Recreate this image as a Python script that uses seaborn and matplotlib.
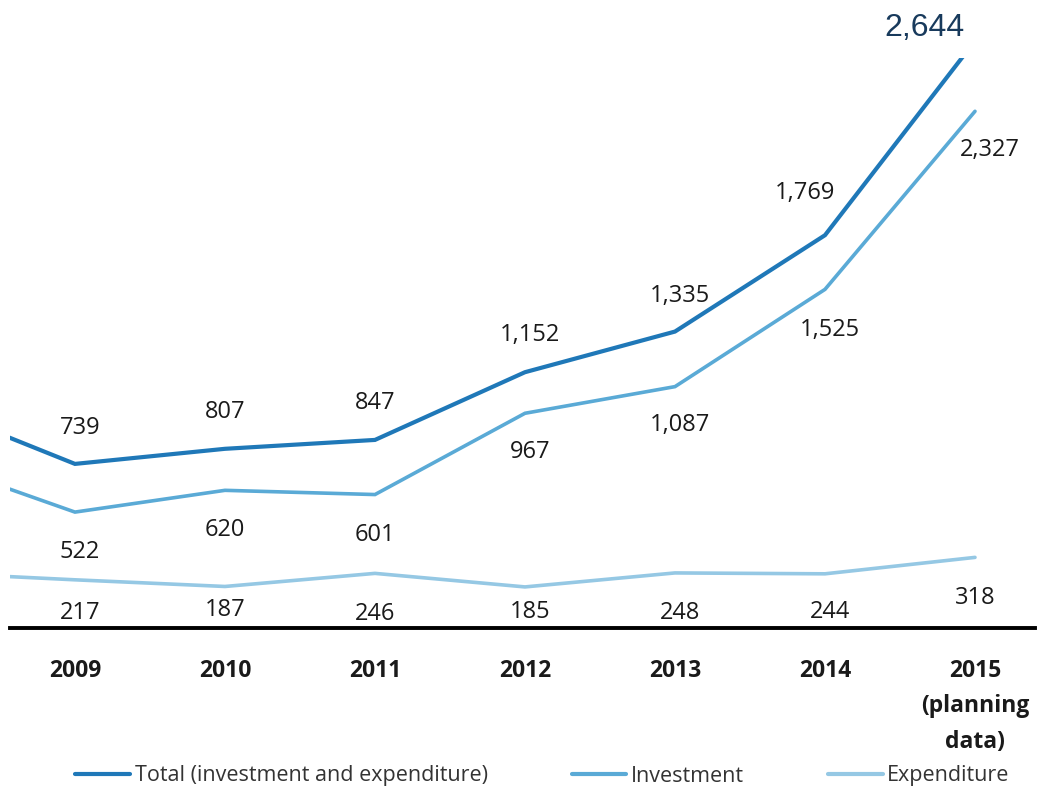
import matplotlib
matplotlib.use("Agg")
import matplotlib.pyplot as plt
import seaborn as sns
import pandas as pd
from matplotlib.lines import Line2D

# ---- data (2008 is the unlabeled lead-in point cut off by the left edge)
years = [2008, 2009, 2010, 2011, 2012, 2013, 2014, 2015]
total = [1010, 739, 807, 847, 1152, 1335, 1769, 2644]
investment = [760, 522, 620, 601, 967, 1087, 1525, 2327]
expenditure = [250, 217, 187, 246, 185, 248, 244, 318]
label_years = [2009, 2010, 2011, 2012, 2013, 2014, 2015]
tick_labels = ["2009", "2010", "2011", "2012", "2013", "2014", "2015\n(planning\ndata)"]
series_names = ["Total (investment and expenditure)", "Investment", "Expenditure"]

# ---- styles
colors = ["#1f78b8", "#5aaad6", "#95c8e4"]
widths = [3.0, 2.6, 2.6]
# label offsets in pixels (dx, dy) relative to each labeled point
total_off = [(5, 36), (0, 37), (0, 37), (5, 37), (5, 36), (-20, 42), (-50, 13)]
inv_off = [(5, -40), (0, -40), (0, -40), (5, -39), (5, -38), (5, -41), (15, -39)]
exp_off = [(5, -33), (0, -24), (0, -41), (5, -25), (5, -40), (5, -38), (0, -41)]

sns.set_theme(style="white")
plt.rcParams["font.family"] = ["Open Sans", "DejaVu Sans"]

df = pd.DataFrame({
    "year": years * 3,
    "value": total + investment + expenditure,
    "series": [series_names[0]] * len(years) + [series_names[1]] * len(years) + [series_names[2]] * len(years),
})

fig = plt.figure(figsize=(10.39, 7.89), dpi=100)
ax = fig.add_axes([10 / 1039, 1 - 628 / 789, (1035 - 10) / 1039, (628 - 58) / 789])

palette = dict(zip(series_names, colors))
for name, lw in zip(series_names, widths):
    sub = df[df["series"] == name]
    sns.lineplot(data=sub, x="year", y="value", color=palette[name], linewidth=lw,
                 ax=ax, legend=False, solid_joinstyle="miter")

ax.set_xlim(2008.567, 2015.4)
ax.set_ylim(0, 2567)

# value labels
lab_total = total[1:]
lab_inv = investment[1:]
lab_exp = expenditure[1:]
for i, yr in enumerate(label_years):
    if i < len(label_years) - 1:
        ax.annotate(f"{lab_total[i]:,}", (yr, lab_total[i]), xytext=total_off[i],
                    textcoords="offset pixels", ha="center", va="center",
                    fontsize=17, color="#1a1a1a", annotation_clip=False)
    else:
        ax.annotate(f"{lab_total[i]:,}", (yr, lab_total[i]), xytext=total_off[i],
                    textcoords="offset pixels", ha="center", va="center",
                    fontsize=23, color="#183a5c", family=["Liberation Sans", "DejaVu Sans"],
                    annotation_clip=False)
    ax.annotate(f"{lab_inv[i]:,}", (yr, lab_inv[i]), xytext=inv_off[i],
                textcoords="offset pixels", ha="center", va="center",
                fontsize=17, color="#1a1a1a", annotation_clip=False)
    ax.annotate(f"{lab_exp[i]:,}", (yr, lab_exp[i]), xytext=exp_off[i],
                textcoords="offset pixels", ha="center", va="center",
                fontsize=17, color="#1a1a1a", annotation_clip=False)

# axes styling
for s in ["top", "left", "right"]:
    ax.spines[s].set_visible(False)
ax.spines["bottom"].set_color("black")
ax.spines["bottom"].set_linewidth(2.8)
ax.set_yticks([])
ax.set_xticks(label_years)
ax.set_xticklabels(tick_labels, fontsize=16.5, fontweight="bold", color="#1a1a1a", linespacing=1.65)
ax.tick_params(axis="x", length=0, pad=22)
ax.set_xlabel("")
ax.set_ylabel("")

handles = [Line2D([0], [0], color=c, linewidth=3) for c in colors]
fig.legend(handles, series_names, loc="center", bbox_to_anchor=(0.522, 1 - 776 / 789),
           ncol=3, frameon=False, fontsize=15.5, handlelength=2.55, handletextpad=0.2,
           columnspacing=3.9, labelcolor="#333333")

fig.savefig("out.png", dpi=100)
